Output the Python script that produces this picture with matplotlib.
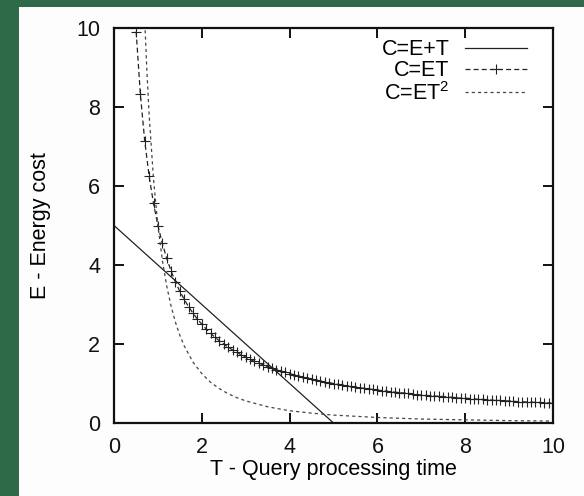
import matplotlib
matplotlib.use("Agg")
import matplotlib.pyplot as plt
from matplotlib.patches import Rectangle

plt.rcParams['font.family'] = ['Liberation Sans', 'DejaVu Sans']
plt.rcParams['mathtext.fontset'] = 'custom'
plt.rcParams['mathtext.rm'] = 'Liberation Sans'
plt.rcParams['mathtext.it'] = 'Liberation Sans'

# C = E + T  (straight line)
t_sum = [0.0, 5.0]
e_sum = [5.0, 0.0]

# C = E * T  (one + per sample)
t_prod = [0.40, 0.505, 0.6, 0.7, 0.8, 0.9, 1.0, 1.1, 1.2, 1.3, 1.4, 1.5, 1.6, 1.7, 1.8,
          1.9, 2.0, 2.1, 2.2, 2.3, 2.4, 2.5, 2.6, 2.7, 2.8, 2.9, 3.0, 3.1, 3.2, 3.3,
          3.4, 3.5, 3.6, 3.7, 3.8, 3.9, 4.0, 4.1, 4.2, 4.3, 4.4, 4.5, 4.6, 4.7, 4.8,
          4.9, 5.0, 5.1, 5.2, 5.3, 5.4, 5.5, 5.6, 5.7, 5.8, 5.9, 6.0, 6.1, 6.2, 6.3,
          6.4, 6.5, 6.6, 6.7, 6.8, 6.9, 7.0, 7.1, 7.2, 7.3, 7.4, 7.5, 7.6, 7.7, 7.8,
          7.9, 8.0, 8.1, 8.2, 8.3, 8.4, 8.5, 8.6, 8.7, 8.8, 8.9, 9.0, 9.1, 9.2, 9.3,
          9.4, 9.5, 9.6, 9.7, 9.8, 9.9, 10.0]
e_prod = [12.50, 9.90, 8.33, 7.14, 6.25, 5.56, 5.00, 4.55, 4.17, 3.85, 3.57, 3.33, 3.13, 2.94, 2.78,
          2.63, 2.50, 2.38, 2.27, 2.17, 2.08, 2.00, 1.92, 1.85, 1.79, 1.72, 1.67, 1.61, 1.56, 1.52,
          1.47, 1.43, 1.39, 1.35, 1.32, 1.28, 1.25, 1.22, 1.19, 1.16, 1.14, 1.11, 1.09, 1.06, 1.04,
          1.02, 1.00, 0.98, 0.96, 0.94, 0.93, 0.91, 0.89, 0.88, 0.86, 0.85, 0.83, 0.82, 0.81, 0.79,
          0.78, 0.77, 0.76, 0.75, 0.74, 0.72, 0.71, 0.70, 0.69, 0.68, 0.68, 0.67, 0.66, 0.65, 0.64,
          0.63, 0.63, 0.62, 0.61, 0.60, 0.60, 0.59, 0.58, 0.57, 0.57, 0.56, 0.56, 0.55, 0.54, 0.54,
          0.53, 0.53, 0.52, 0.52, 0.51, 0.51, 0.50]

# C = E * T^2
t_sq = [0.6, 0.7, 0.75, 0.8, 0.9, 1.0, 1.1, 1.2, 1.3, 1.4, 1.5, 1.6, 1.8, 2.0, 2.2, 2.4,
        2.6, 2.8, 3.0, 3.5, 4.0, 4.5, 5.0, 5.5, 6.0, 7.0, 8.0, 9.0, 10.0]
e_sq = [13.9, 10.2, 8.89, 7.81, 6.17, 5.00, 4.13, 3.47, 2.96, 2.55, 2.22, 1.95, 1.54, 1.25, 1.03, 0.87,
        0.74, 0.64, 0.56, 0.41, 0.31, 0.25, 0.20, 0.17, 0.14, 0.10, 0.08, 0.06, 0.05]

ticks = [0, 2, 4, 6, 8, 10]
fs = 15.5

fig = plt.figure(figsize=(5.84, 4.96), dpi=100)
fig.patch.set_facecolor('#2e6a48')
# white slide panel behind the plot
fig.add_artist(Rectangle((19 / 584, 0), 1, 1 - 7 / 496, transform=fig.transFigure,
                         facecolor='#fdfdfd', edgecolor='none', zorder=-10))

ax = fig.add_axes([114 / 584, 1 - 423 / 496, (553 - 114) / 584, (423 - 28) / 496])
ax.set_zorder(1)
ax.set_facecolor('white')

ax.plot(t_sum, e_sum, color='#222222', lw=0.9, label='C=E+T')
ax.plot(t_prod, e_prod, color='#222222', lw=0.9, ls=(0, (4, 2.5)), marker='+',
        ms=7, mew=0.8, label='C=ET')
ax.plot(t_sq, e_sq, color='#444444', lw=0.9, ls=(0, (2.5, 2.5)), label='C=ET$^2$')

ax.set_xlim(0, 10)
ax.set_ylim(0, 10)
ax.set_xticks(ticks)
ax.set_yticks(ticks)
ax.tick_params(direction='in', length=7, width=1.4, labelsize=fs, pad=10,
               top=True, right=True, colors='#111111')
for s in ax.spines.values():
    s.set_linewidth(1.6)
    s.set_color('#111111')

ax.set_xlabel('T - Query processing time', fontsize=fs, labelpad=1)
ax.set_ylabel('E - Energy cost', fontsize=fs, labelpad=18)

ax.legend(loc='upper right', bbox_to_anchor=(0.941, 0.972), frameon=False,
          markerfirst=False, fontsize=fs, handlelength=2.9, handletextpad=0.7,
          labelspacing=0.02, borderaxespad=0, borderpad=0)

fig.savefig('out.png', dpi=100, facecolor=fig.get_facecolor())
